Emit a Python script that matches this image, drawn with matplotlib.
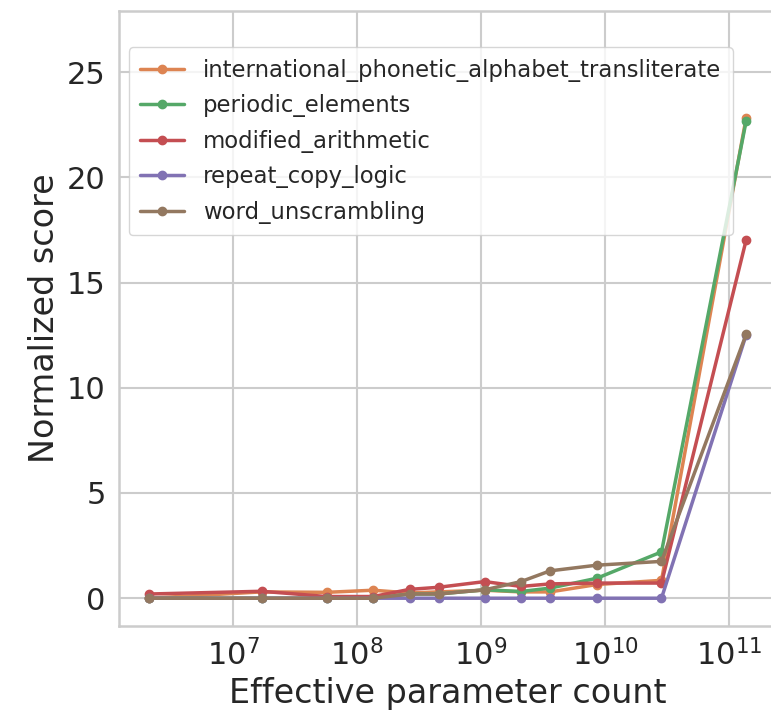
import numpy as np
import matplotlib
matplotlib.use('Agg')
import matplotlib.pyplot as plt
import seaborn as sns

sns.set_theme(style='whitegrid')
plt.rcParams['font.family'] = ['DejaVu Sans']

# effective parameter counts of the model sizes
params = [2.1e6, 1.7e7, 5.7e7, 1.35e8, 2.65e8, 4.55e8, 1.07e9, 2.1e9, 3.6e9, 8.6e9, 2.85e10, 1.37e11]

ipa_translit = [0.0, 0.3, 0.28, 0.38, 0.25, 0.3, 0.38, 0.3, 0.3, 0.65, 0.85, 22.8]
periodic_elements = [0.0, 0.0, 0.0, 0.0, 0.2, 0.2, 0.4, 0.32, 0.48, 0.95, 2.2, 22.65]
modified_arithmetic = [0.2, 0.33, 0.08, 0.08, 0.42, 0.52, 0.79, 0.56, 0.68, 0.72, 0.72, 17.0]
repeat_copy_logic = [0.0, 0.0, 0.0, 0.0, 0.0, 0.0, 0.0, 0.0, 0.0, 0.0, 0.0, 12.5]
word_unscrambling = [0.0, 0.0, 0.0, 0.0, 0.2, 0.2, 0.4, 0.79, 1.3, 1.57, 1.75, 12.53]

series = [
    ('international_phonetic_alphabet_transliterate', ipa_translit),
    ('periodic_elements', periodic_elements),
    ('modified_arithmetic', modified_arithmetic),
    ('repeat_copy_logic', repeat_copy_logic),
    ('word_unscrambling', word_unscrambling),
]
colors = sns.color_palette('deep')[1:6]

fig = plt.figure(figsize=(7.71, 7.19), dpi=100)
ax = fig.add_axes([119/771, 1 - 626/719, (776 - 119)/771, (626 - 11)/719])

for (name, vals), c in zip(series, colors):
    ax.plot(params, vals, '-o', color=c, label=name, linewidth=2.5, markersize=6)

ax.set_xscale('log')
ax.set_xlim(10**6.081, 10**11.378)
ax.set_ylim(-1.32, 27.9)
ax.set_yticks([0, 5, 10, 15, 20, 25])
ax.tick_params(labelsize=22)
ax.set_xlabel('Effective parameter count', fontsize=24)
ax.set_ylabel('Normalized score', fontsize=24)
ax.grid(True, color='#cccccc', linewidth=1.5)
for s in ax.spines.values():
    s.set_color('#cccccc')
    s.set_linewidth(1.8)

leg = ax.legend(loc='upper left', bbox_to_anchor=(0.015, 0.941), borderaxespad=0,
                fontsize=16.4, handlelength=1.9, labelspacing=0.55, borderpad=0.5,
                handletextpad=0.85, framealpha=0.8)
for line in leg.get_lines():
    line.set_linewidth(2.5)

plt.savefig('out.png', dpi=100)
